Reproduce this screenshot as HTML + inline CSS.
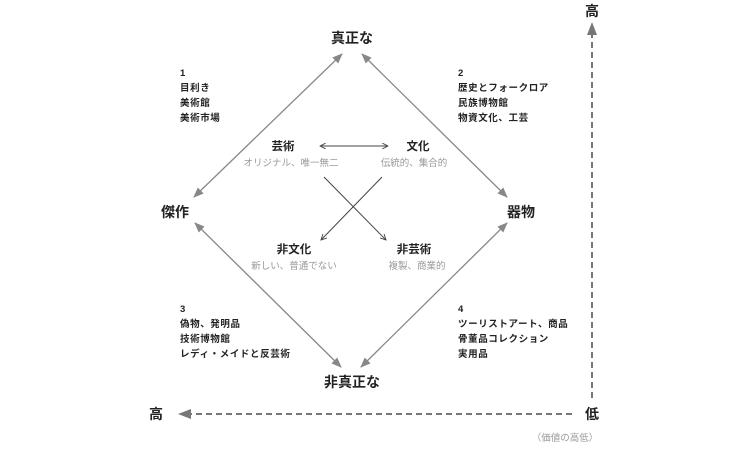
<!DOCTYPE html>
<html><head><meta charset="utf-8"><style>
body{margin:0;background:#fff;}
svg text{font-family:"Liberation Sans","Noto Sans CJK JP",sans-serif;}
</style></head><body>
<svg width="730" height="450" viewBox="0 0 730 450" xmlns="http://www.w3.org/2000/svg">
<defs>
<marker id="a" viewBox="0 0 10 10" refX="9" refY="5" markerWidth="8" markerHeight="8" orient="auto-start-reverse"><path d="M0,1 L10,5 L0,9 z" fill="#888"/></marker>
<marker id="t" viewBox="0 0 10 10" refX="9" refY="5" markerWidth="7" markerHeight="7" orient="auto-start-reverse"><path d="M1,1 L9,5 L1,9" fill="none" stroke="#444" stroke-width="1.3"/></marker>
</defs>
<g stroke="#888" stroke-width="1.3" fill="none">
<line x1="194" y1="197" x2="342" y2="54" marker-start="url(#a)" marker-end="url(#a)"/>
<line x1="362" y1="54" x2="507" y2="197" marker-start="url(#a)" marker-end="url(#a)"/>
<line x1="195" y1="223" x2="341" y2="367" marker-start="url(#a)" marker-end="url(#a)"/>
<line x1="507" y1="223" x2="361" y2="367" marker-start="url(#a)" marker-end="url(#a)"/>
</g>
<g stroke="#444" stroke-width="1" fill="none">
<line x1="320" y1="146" x2="388" y2="146" marker-start="url(#t)" marker-end="url(#t)"/>
<line x1="324" y1="177" x2="386" y2="240" marker-end="url(#t)"/>
<line x1="382" y1="177" x2="321" y2="240" marker-end="url(#t)"/>
</g>
<g stroke="#777" stroke-width="2" stroke-dasharray="6,4" fill="none">
<line x1="592" y1="398" x2="592" y2="34"/>
<line x1="572" y1="414" x2="190" y2="414"/>
</g>
<path d="M592,22 L587,35 L597,35 z" fill="#777"/>
<path d="M178,414 L191,409 L191,419 z" fill="#777"/>
<g fill="#222" font-size="14" font-weight="bold" text-anchor="middle">
<text x="352" y="43">真正な</text>
<text x="175" y="217">傑作</text>
<text x="521" y="217">器物</text>
<text x="352" y="387">非真正な</text>
<text x="592" y="16">高</text>
<text x="156" y="419">高</text>
<text x="592" y="419">低</text>
</g>
<g fill="#222" font-size="11.5" font-weight="bold" text-anchor="middle">
<text x="283" y="150">芸術</text>
<text x="418" y="150">文化</text>
<text x="294" y="253">非文化</text>
<text x="414" y="253">非芸術</text>
</g>
<g fill="#999" font-size="9.5" text-anchor="middle">
<text x="291" y="166">オリジナル、唯一無二</text>
<text x="414" y="166">伝統的、集合的</text>
<text x="294" y="269">新しい、普通でない</text>
<text x="417" y="269">複製、商業的</text>
<text x="565" y="441">（価値の高低）</text>
</g>
<g fill="#222" font-size="9.5" font-weight="bold" letter-spacing="0.6">
<text x="180" y="76">1</text><text x="180" y="91">目利き</text><text x="180" y="106">美術館</text><text x="180" y="121">美術市場</text>
<text x="458" y="76">2</text><text x="458" y="91">歴史とフォークロア</text><text x="458" y="106">民族博物館</text><text x="458" y="121">物資文化、工芸</text>
<text x="180" y="312">3</text><text x="180" y="327">偽物、発明品</text><text x="180" y="342">技術博物館</text><text x="180" y="357">レディ・メイドと反芸術</text>
<text x="458" y="312">4</text><text x="458" y="327">ツーリストアート、商品</text><text x="458" y="342">骨董品コレクション</text><text x="458" y="357">実用品</text>
</g>
</svg>
</body></html>
